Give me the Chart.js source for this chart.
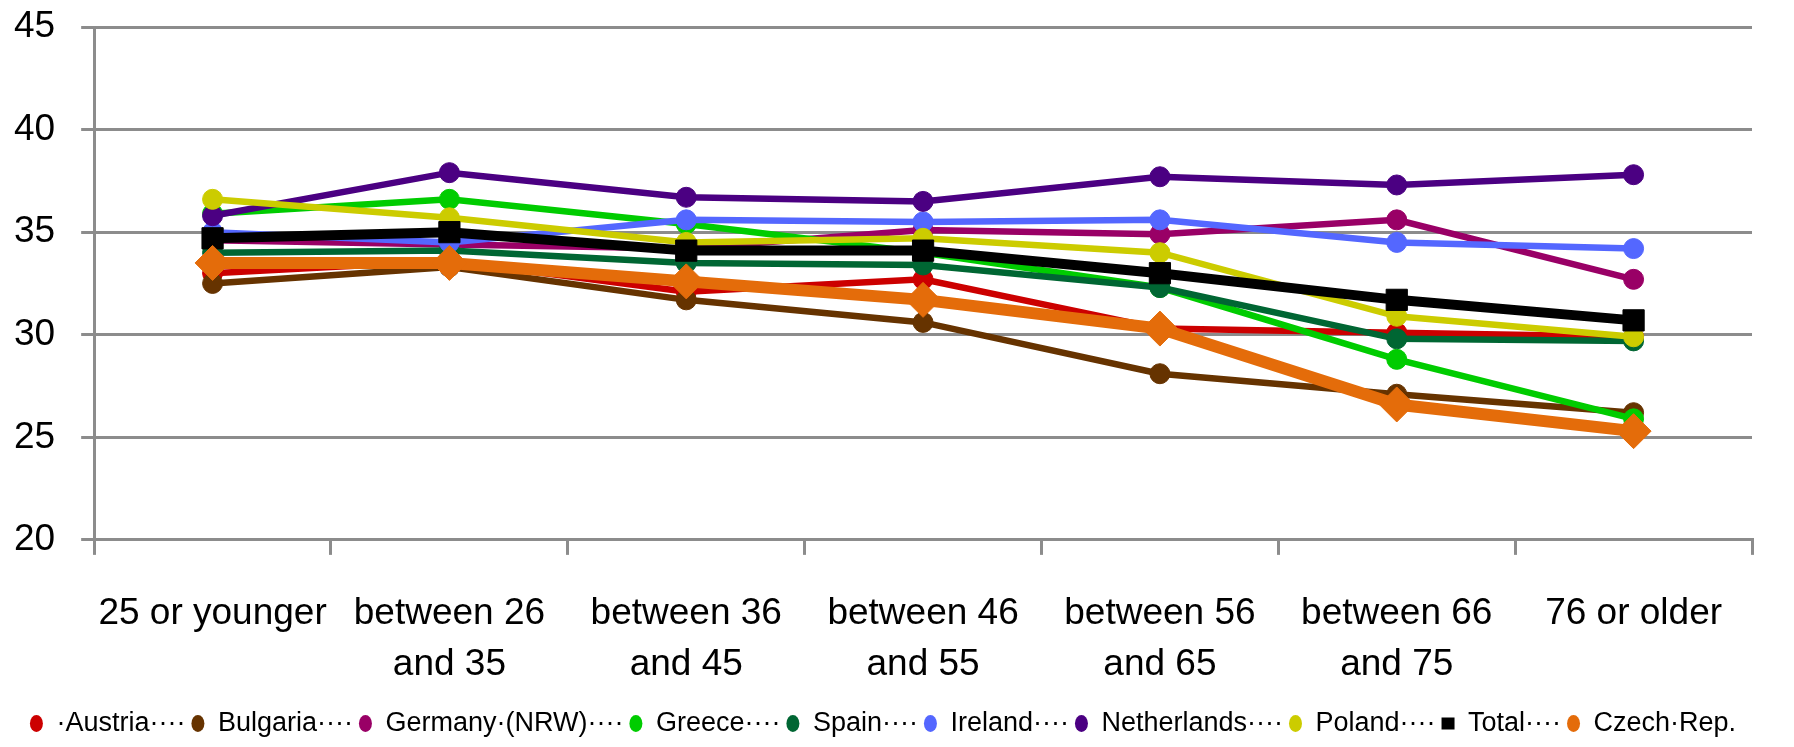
<!DOCTYPE html>
<html>
<head>
<meta charset="utf-8">
<script src="https://cdn.jsdelivr.net/npm/chart.js@4.4.1/dist/chart.umd.min.js"></script>
<style>
  html, body { margin: 0; padding: 0; background: #fff; }
  #wrap { width: 1794px; height: 747px; position: relative; }
</style>
</head>
<body>
<div id="wrap"><canvas id="chart"></canvas></div>
<script>
// age groups on the x axis
const categories = [
  '25 or younger',
  ['between 26', 'and 35'],
  ['between 36', 'and 45'],
  ['between 46', 'and 55'],
  ['between 56', 'and 65'],
  ['between 66', 'and 75'],
  '76 or older'
];

const yTicks = [20, 25, 30, 35, 40, 45];

// one series per country
const austria     = [33.0, 33.6, 32.1, 32.7, 30.3, 30.1, 29.9];
const bulgaria    = [32.5, 33.3, 31.7, 30.6, 28.1, 27.1, 26.2];
const germany     = [34.6, 34.4, 34.2, 35.1, 34.9, 35.6, 32.7];
const greece      = [35.9, 36.6, 35.4, 34.0, 32.3, 28.8, 25.9];
const spain       = [34.0, 34.1, 33.5, 33.4, 32.3, 29.8, 29.7];
const ireland     = [35.0, 34.5, 35.6, 35.5, 35.6, 34.5, 34.2];
const netherlands = [35.8, 37.9, 36.7, 36.5, 37.7, 37.3, 37.8];
const poland      = [36.6, 35.7, 34.5, 34.7, 34.0, 30.9, 29.9];
const total       = [34.7, 35.0, 34.1, 34.1, 33.0, 31.7, 30.7];
const czech       = [33.5, 33.5, 32.6, 31.7, 30.3, 26.6, 25.3];

const seriesNames = ['·Austria', 'Bulgaria', 'Germany·(NRW)', 'Greece', 'Spain',
  'Ireland', 'Netherlands', 'Poland', 'Total', 'Czech·Rep.'];
const seriesValues = [austria, bulgaria, germany, greece, spain,
  ireland, netherlands, poland, total, czech];
const seriesColors = ['#cc0000', '#663300', '#990066', '#00cc00', '#006633',
  '#5467ff', '#4b0082', '#cccc00', '#000000', '#e46c0a'];

const FONT = "'Liberation Sans', Arial, sans-serif";
const GRID = '#8c8c8c';
const leader = '····';

const datasets = seriesNames.map((name, i) => {
  const isTotal = name === 'Total';
  const isCzech = i === seriesNames.length - 1;
  return {
    label: name,
    data: seriesValues[i],
    borderColor: seriesColors[i],
    backgroundColor: seriesColors[i],
    borderWidth: isCzech ? 12 : (isTotal ? 10 : 6.5),
    pointStyle: isCzech ? 'rectRot' : (isTotal ? 'rect' : 'circle'),
    pointRadius: isCzech ? 17.5 : (isTotal ? 15 : 10),
    pointBorderWidth: 1,
    pointBorderColor: seriesColors[i],
    pointBackgroundColor: seriesColors[i],
    tension: 0,
    // later series are drawn on top, as in the original
    order: seriesNames.length - i
  };
});

new Chart(document.getElementById('chart'), {
  type: 'line',
  data: { labels: categories, datasets },
  options: {
    responsive: true,
    maintainAspectRatio: false,
    animation: false,
    events: [],
    layout: { padding: { left: 14, right: 42, top: 27, bottom: 0 } },
    plugins: {
      tooltip: { enabled: false },
      legend: {
        position: 'bottom',
        labels: {
          usePointStyle: true,
          boxHeight: 12,
          pointStyleWidth: 13,
          padding: 6,
          color: '#000',
          font: { family: FONT, size: 27 },
          sort: (a, b) => a.datasetIndex - b.datasetIndex,
          generateLabels: (chart) => chart.data.datasets.map((ds, i) => ({
            text: ds.label + (i < chart.data.datasets.length - 1 ? leader : ''),
            fillStyle: ds.borderColor,
            strokeStyle: ds.borderColor,
            lineWidth: 0,
            pointStyle: ds.label === 'Total' ? 'rect' : 'circle',
            hidden: false,
            datasetIndex: i
          }))
        }
      }
    },
    scales: {
      x: {
        offset: true,
        afterFit: (axis) => {
          axis.height -= 19;
          axis.paddingLeft = 0;
          axis.paddingRight = 0;
        },
        grid: {
          offset: true,
          drawOnChartArea: false,
          drawTicks: true,
          tickLength: 15,
          color: GRID,
          lineWidth: 3
        },
        border: { display: true, color: GRID, width: 3 },
        ticks: {
          color: '#000',
          font: { family: FONT, size: 37, lineHeight: 1.38 },
          padding: 33,
          maxRotation: 0,
          autoSkip: false
        }
      },
      y: {
        min: yTicks[0],
        max: yTicks[yTicks.length - 1],
        afterBuildTicks: (axis) => { axis.ticks = yTicks.map(v => ({ value: v })); },
        afterFit: (axis) => {
          axis.width -= 26;
          axis.paddingTop = 0;
          axis.paddingBottom = 0;
        },
        grid: { color: GRID, lineWidth: 3, tickLength: 13 },
        border: { display: true, color: GRID, width: 3 },
        ticks: {
          color: '#000',
          font: { family: FONT, size: 37 },
          padding: 26
        }
      }
    }
  }
});
</script>
</body>
</html>
